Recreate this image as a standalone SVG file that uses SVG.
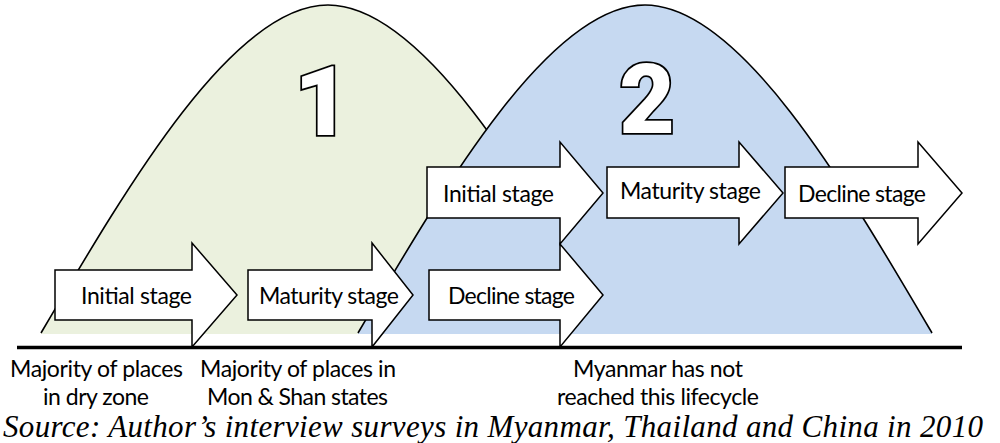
<svg xmlns="http://www.w3.org/2000/svg" width="1000" height="443" viewBox="0 0 1000 443">
<style>
.fillG{fill:#EBF1DE;stroke:none}
.fillB{fill:#C6D9F1;stroke:none}
.edge{fill:none;stroke:#000;stroke-width:1.6}
.arrow{fill:#fff;stroke:#000;stroke-width:1.5;stroke-linejoin:miter}
.lbl{font-family:Lato,"Open Sans",sans-serif;font-size:23px;fill:#000;text-anchor:middle}
.num{font-family:Roboto,"Liberation Sans",Arial,sans-serif;font-weight:900;font-size:96px;fill:#fff;stroke:#000;stroke-width:3.5;paint-order:stroke;text-anchor:middle}
.src{font-family:"Liberation Serif","Times New Roman",serif;font-style:italic;font-size:31px;fill:#000}
</style>
<rect width="1000" height="443" fill="#fff"/>
<g id="cycle1">
<path class="fillG" d="M41,333 C128,185 233,5 328,5 C423,5 528,185 615,333 L615,334 L41,334 Z"/>
<path class="edge" d="M41,333 C128,185 233,5 328,5 C423,5 528,185 615,333"/>
<text class="num" x="322" y="135">1</text>
</g>
<g id="cycle2">
<path class="fillB" d="M358,333 C445,185 550,5 645,5 C740,5 845,185 932,333 L932,334 L358,334 Z"/>
<path class="edge" d="M358,333 C445,185 550,5 645,5 C740,5 845,185 932,333"/>
<text class="num" x="647" y="133">2</text>
</g>
<g id="axis">
<line x1="17" y1="347.5" x2="962" y2="347.5" stroke="#000" stroke-width="3.5"/>
</g>
<g id="connectors"></g>
<g id="a1-initial">
<path class="arrow" d="M55,270 L192,270 L192,243 L237,295 L192,347 L192,320 L55,320 Z"/>
<text class="lbl" x="136.5" y="304" textLength="111">Initial stage</text>
</g>
<g id="a1-maturity">
<path class="arrow" d="M248,270 L372,270 L372,243 L413,295 L372,347 L372,320 L248,320 Z"/>
<text class="lbl" x="329" y="304" textLength="140">Maturity stage</text>
</g>
<g id="a1-decline">
<path class="arrow" d="M429,270 L560,270 L560,244 L603,295 L560,347 L560,320 L429,320 Z"/>
<text class="lbl" x="511.5" y="304" textLength="127">Decline stage</text>
</g>
<g id="a2-initial">
<path class="arrow" d="M427,167 L560,167 L560,142 L603,193 L560,244 L560,218 L427,218 Z"/>
<text class="lbl" x="498.5" y="202" textLength="111">Initial stage</text>
</g>
<g id="a2-maturity">
<path class="arrow" d="M607,167 L739,167 L739,142 L783,193 L739,244 L739,218 L607,218 Z"/>
<text class="lbl" x="690.5" y="199" textLength="141">Maturity stage</text>
</g>
<g id="a2-decline">
<path class="arrow" d="M785,167 L918,167 L918,142 L962,193 L918,244 L918,218 L785,218 Z"/>
<text class="lbl" x="862" y="202" textLength="128">Decline stage</text>
</g>
<g id="note-dry">
<text class="lbl" x="96.5" y="377" textLength="173">Majority of places</text>
<text class="lbl" x="96" y="405" textLength="106">in dry zone</text>
</g>
<g id="note-monshan">
<text class="lbl" x="298" y="377" textLength="196">Majority of places in</text>
<text class="lbl" x="297.5" y="405" textLength="181">Mon &amp; Shan states</text>
</g>
<g id="note-myanmar">
<text class="lbl" x="658" y="377" textLength="170">Myanmar has not</text>
<text class="lbl" x="658" y="405" textLength="202">reached this lifecycle</text>
</g>
<g id="source">
<text class="src" x="3" y="437" textLength="980">Source: Author’s interview surveys in Myanmar, Thailand and China in 2010</text>
</g>
</svg>
